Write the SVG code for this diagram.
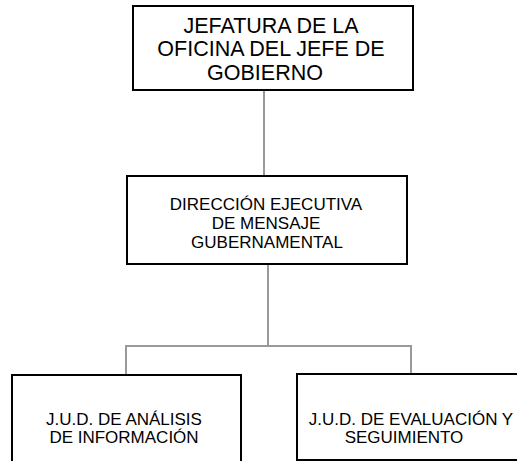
<svg xmlns="http://www.w3.org/2000/svg" width="517" height="461" viewBox="0 0 517 461">
<style>
.box{fill:#fff;stroke:#000;stroke-width:2}
.conn{fill:none;stroke:#999;stroke-width:2}
text{font-family:"Liberation Sans",Arial,sans-serif;fill:#000;text-anchor:middle}
.t1{font-size:21.5px}
.t2{font-size:17px}
</style>
<rect width="517" height="461" fill="#fff"/>
<g id="connectors">
<line class="conn" x1="264" y1="90" x2="264" y2="176"/>
<line class="conn" x1="268" y1="264" x2="268" y2="346"/>
<polyline class="conn" points="126,375 126,346 411,346 411,374"/>
</g>
<g id="n1">
<rect class="box" x="133" y="6" width="280" height="84"/>
<text class="t1"><tspan x="271" y="33">JEFATURA DE LA</tspan><tspan x="271" y="56">OFICINA DEL JEFE DE</tspan><tspan x="265" y="80">GOBIERNO</tspan></text>
</g>
<g id="n2">
<rect class="box" x="127" y="176" width="280" height="88"/>
<text class="t2"><tspan x="266" y="210">DIRECCIÓN EJECUTIVA</tspan><tspan x="266" y="229">DE MENSAJE</tspan><tspan x="267" y="248">GUBERNAMENTAL</tspan></text>
</g>
<g id="n3">
<rect class="box" x="12" y="375" width="229" height="95"/>
<text class="t2"><tspan x="124" y="425">J.U.D. DE ANÁLISIS</tspan><tspan x="124" y="443">DE INFORMACIÓN</tspan></text>
</g>
<g id="n4">
<rect class="box" x="297" y="374" width="226" height="86" style="stroke:#000"/>
<text class="t2"><tspan x="411" y="425">J.U.D. DE EVALUACIÓN Y</tspan><tspan x="404" y="443">SEGUIMIENTO</tspan></text>
</g>
</svg>
